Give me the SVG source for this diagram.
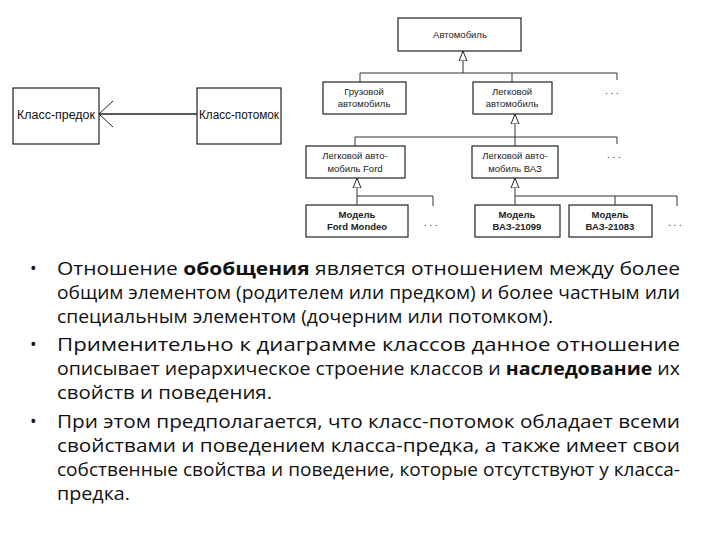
<svg xmlns="http://www.w3.org/2000/svg" width="720" height="540" viewBox="0 0 720 540">
<defs>
<marker id="tri" viewBox="0 0 10 10" refX="10" refY="5" markerWidth="10" markerHeight="10" markerUnits="userSpaceOnUse" orient="auto"><path d="M0,1 L10,5 L0,9 Z" fill="#fff" stroke="#222" stroke-width="1"/></marker>
<marker id="big" viewBox="0 0 16 28" refX="15" refY="14" markerWidth="16" markerHeight="28" markerUnits="userSpaceOnUse" orient="auto"><path d="M1,1 L15,14 L1,27" fill="none" stroke="#222" stroke-width="1"/></marker>
</defs>
<style>
.b{fill:#fff;stroke:#222;stroke-width:1.2}
.t{font-family:"Liberation Sans",Arial,sans-serif;font-size:9.5px;fill:#222;text-anchor:middle}
.tb{font-weight:bold}
.L{font-family:"Liberation Sans",Arial,sans-serif;font-size:12.5px;fill:#111}
.c{stroke:#333;stroke-width:1;fill:none}
.d{font-family:"Liberation Sans",Arial,sans-serif;font-size:10px;fill:#333}
.p{font-family:"Open Sans","Liberation Sans",sans-serif;font-size:17.5px;fill:#111}
</style>
<g id="connectors">
<path class="c" d="M463 73 V51" marker-end="url(#tri)"/>
<path class="c" d="M360 82 V73 H617 V80 M512 73 V82"/>
<path class="c" d="M515 137 V114" marker-end="url(#tri)"/>
<path class="c" d="M355 146 V137 H617 V144 M515 137 V146"/>
<path class="c" d="M357 196 V178" marker-end="url(#tri)"/>
<path class="c" d="M357 196 V205 M357 196 H433 V206"/>
<path class="c" d="M515 196 V178" marker-end="url(#tri)"/>
<path class="c" d="M515 196 V205 M515 196 H677 V206 M615 196 V205"/>
<path d="M197 114 H99" stroke="#222" stroke-width="1.5" fill="none" marker-end="url(#big)"/>
</g>
<g id="avto"><rect class="b" x="398" y="18" width="123" height="33"/><text class="t" x="460" y="38">Автомобиль</text></g>
<g id="gruz"><rect class="b" x="323" y="82" width="83" height="32"/><text class="t" x="364" y="95">Грузовой</text><text class="t" x="364" y="107">автомобиль</text></g>
<g id="legk"><rect class="b" x="473" y="82" width="79" height="32"/><text class="t" x="512" y="95">Легковой</text><text class="t" x="512" y="107">автомобиль</text></g>
<g id="ford"><rect class="b" x="306" y="146" width="99" height="32"/><text class="t" x="355" y="159">Легковой авто-</text><text class="t" x="355" y="172">мобиль Ford</text></g>
<g id="vaz"><rect class="b" x="472" y="146" width="86" height="32"/><text class="t" x="515" y="159">Легковой авто-</text><text class="t" x="515" y="172">мобиль ВАЗ</text></g>
<g id="mondeo"><rect class="b" x="306" y="205" width="102" height="32"/><text class="t tb" x="357" y="218">Модель</text><text class="t tb" x="357" y="230">Ford Mondeo</text></g>
<g id="v21099"><rect class="b" x="475" y="205" width="85" height="32"/><text class="t tb" x="517" y="218">Модель</text><text class="t tb" x="517" y="230">ВАЗ-21099</text></g>
<g id="v21083"><rect class="b" x="569" y="205" width="83" height="32"/><text class="t tb" x="610" y="218">Модель</text><text class="t tb" x="610" y="230">ВАЗ-21083</text></g>
<g id="dots"><text class="d" x="605" y="94">. . .</text><text class="d" x="607" y="158">. . .</text><text class="d" x="424" y="226">. . .</text><text class="d" x="668" y="226">. . .</text></g>
<g id="predok"><rect class="b" x="13" y="88" width="86" height="56"/><text class="L" x="17" y="119" textLength="78" lengthAdjust="spacingAndGlyphs">Класс-предок</text></g>
<g id="potomok"><rect class="b" x="197" y="88" width="84" height="56"/><text class="L" x="199" y="119" textLength="80" lengthAdjust="spacingAndGlyphs">Класс-потомок</text></g>
<g id="text">
<text class="p" x="30" y="275">•</text><text class="p" x="30" y="351">•</text><text class="p" x="30" y="428">•</text>
<text class="p" x="57" y="275" textLength="623" lengthAdjust="spacingAndGlyphs">Отношение <tspan font-weight="bold">обобщения</tspan> является отношением между более</text>
<text class="p" x="57" y="299" textLength="623" lengthAdjust="spacingAndGlyphs">общим элементом (родителем или предком) и более частным или</text>
<text class="p" x="57" y="323" textLength="496" lengthAdjust="spacingAndGlyphs">специальным элементом (дочерним или потомком).</text>
<text class="p" x="57" y="351" textLength="623" lengthAdjust="spacingAndGlyphs">Применительно к диаграмме классов данное отношение</text>
<text class="p" x="57" y="375" textLength="623" lengthAdjust="spacingAndGlyphs">описывает иерархическое строение классов и <tspan font-weight="bold">наследование</tspan> их</text>
<text class="p" x="57" y="399" textLength="215" lengthAdjust="spacingAndGlyphs">свойств и поведения.</text>
<text class="p" x="57" y="428" textLength="623" lengthAdjust="spacingAndGlyphs">При этом предполагается, что класс-потомок обладает всеми</text>
<text class="p" x="57" y="452" textLength="623" lengthAdjust="spacingAndGlyphs">свойствами и поведением класса-предка, а также имеет свои</text>
<text class="p" x="57" y="476" textLength="623" lengthAdjust="spacingAndGlyphs">собственные свойства и поведение, которые отсутствуют у класса-</text>
<text class="p" x="57" y="500" textLength="73" lengthAdjust="spacingAndGlyphs">предка.</text>
</g>
</svg>
